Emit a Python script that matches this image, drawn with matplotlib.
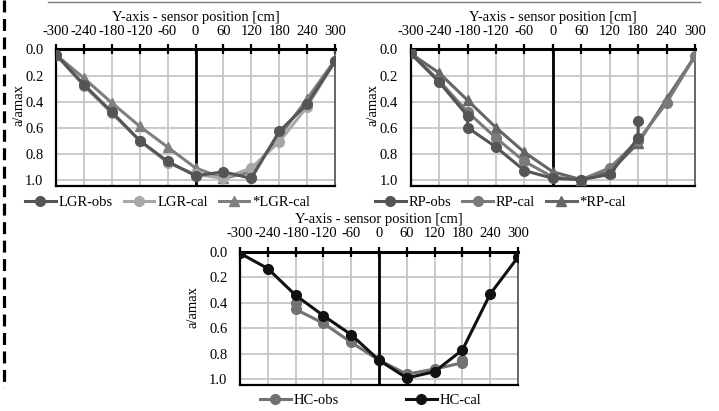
import matplotlib
matplotlib.use('Agg')
import matplotlib.pyplot as plt
from matplotlib.lines import Line2D
import numpy as np

#--------------------------数据----------------------------
x_pos = [-300, -240, -180, -120, -60, 0, 60, 120, 180, 240, 300]
x_ticks = [-300, -240, -180, -120, -60, 0, 60, 120, 180, 240, 300]
y_ticks = [0.0, 0.2, 0.4, 0.6, 0.8, 1.0]

# LGR
lgr_obs = [0.04, 0.27, 0.48, 0.70, 0.86, 0.97, 0.94, 0.99, 0.63, 0.42, 0.09]
lgr_cal = [0.04, 0.28, 0.49, 0.70, 0.87, 0.96, 0.99, 0.91, 0.71, 0.44, 0.09]
lgr_cal2 = [0.04, 0.22, 0.41, 0.59, 0.75, 0.91, 0.99, 0.94, 0.67, 0.38, 0.08]

# RP (obs has two sensors at -180 and 180)
rp_obs_x = [-300, -240, -180, -180, -120, -60, 0, 60, 120, 180, 180]
rp_obs = [0.03, 0.25, 0.51, 0.60, 0.75, 0.93, 0.99, 1.00, 0.96, 0.68, 0.55]
rp_cal = [0.03, 0.24, 0.48, 0.68, 0.86, 0.98, 1.00, 0.91, 0.70, 0.41, 0.05]
rp_cal2 = [0.03, 0.18, 0.39, 0.60, 0.79, 0.94, 1.00, 0.94, 0.72, 0.38, 0.05]

# HC
hc_obs_x = [-180, -180, -120, -60, 0, 60, 120, 180, 180]
hc_obs = [0.40, 0.45, 0.56, 0.71, 0.85, 0.96, 0.92, 0.87, 0.85]
hc_cal = [0.01, 0.13, 0.34, 0.50, 0.65, 0.85, 0.99, 0.94, 0.77, 0.33, 0.04]

xlabel = 'Y-axis - sensor position [cm]'
ylabel = 'a/amax'
#------------------------------------------------------------

plt.rcParams['font.family'] = ['Liberation Serif', 'DejaVu Serif']
plt.rcParams['lines.scale_dashes'] = False
plt.rcParams['axes.unicode_minus'] = False

W, H = 719, 411
fig = plt.figure(figsize=(W / 100, H / 100), dpi=100)
FS = 10.5


def px_axes(left, top, right, bottom):
    # 像素坐标转换成figure坐标
    return fig.add_axes([left / W, 1 - bottom / H, (right - left) / W, (bottom - top) / H])


def style_axes(ax, ylab_x):
    ax.set_xlim(-300, 300)
    ax.set_ylim(1.045, 0)
    ax.set_xticks(x_ticks)
    ax.set_yticks(y_ticks)
    ax.set_yticklabels(['%.1f' % v for v in y_ticks])
    ax.xaxis.tick_top()
    ax.xaxis.set_label_position('top')
    ax.set_xlabel(xlabel, fontsize=FS, labelpad=3)
    ax.set_ylabel(ylabel, fontsize=FS)
    ax.yaxis.set_label_coords(ylab_x, 0.59)
    ax.tick_params(axis='x', direction='inout', length=7, width=1.6, labelsize=FS, pad=5, colors='black')
    ax.tick_params(axis='y', length=0, labelsize=FS, pad=9)
    ax.grid(True, color='#c6c6c6', lw=1.3)
    ax.set_axisbelow(True)
    for s in ['left', 'bottom']:
        ax.spines[s].set_linewidth(1.6)
        ax.spines[s].set_color('black')
    ax.spines['top'].set_linewidth(2.2)
    ax.spines['right'].set_linewidth(1.2)
    ax.spines['right'].set_color('#505050')
    ax.axvline(0, color='black', lw=2, zorder=2.5)


kw = dict(lw=2.2, ms=7, zorder=3)
leg_kw = dict(loc='center left', frameon=False, fontsize=FS, handlelength=2.1, handletextpad=0.2,
              borderpad=0, borderaxespad=0)

# chart 1: LGR
ax1 = px_axes(56, 49.5, 335, 185.5)
style_axes(ax1, -0.111)
ax1.plot(x_pos, lgr_cal2, marker='^', color='#7f7f7f', label='*LGR-cal', **kw)
ax1.plot(x_pos, lgr_cal, marker='o', color='#a8a8a8', label='LGR-cal', **kw)
ax1.plot(x_pos, lgr_obs, marker='o', color='#555555', label='LGR-obs', **kw)
h, l = ax1.get_legend_handles_labels()
fig.legend(h[::-1], l[::-1], bbox_to_anchor=(25 / W, 1 - 202 / H), ncol=3, columnspacing=0.75, **leg_kw)

# chart 2: RP
ax2 = px_axes(410.7, 49.5, 695, 185.5)
style_axes(ax2, -0.108)
ax2.plot(x_pos, rp_cal2, marker='^', color='#666666', label='*RP-cal', **kw)
ax2.plot(x_pos, rp_cal, marker='o', color='#7a7a7a', label='RP-cal', **kw)
ax2.plot(rp_obs_x, rp_obs, marker='o', color='#555555', label='RP-obs', **kw)
h, l = ax2.get_legend_handles_labels()
fig.legend(h[::-1], l[::-1], bbox_to_anchor=(375 / W, 1 - 202 / H), ncol=3, columnspacing=0.75, **leg_kw)

# chart 3: HC
ax3 = px_axes(240, 252, 518, 385)
style_axes(ax3, -0.144)
ax3.plot(hc_obs_x, hc_obs, marker='o', color='#727272', label='HC-obs', **kw)
ax3.plot(x_pos, hc_cal, marker='o', color='#111111', label='HC-cal', **kw)
h, l = ax3.get_legend_handles_labels()
fig.legend(h, l, bbox_to_anchor=(260 / W, 1 - 400 / H), ncol=2, columnspacing=4.6, **leg_kw)

# 顶部的横线和左边的虚线
fig.add_artist(Line2D([48 / W, 700 / W], [1 - 2.5 / H, 1 - 2.5 / H], color='#7a7a7a', lw=1))
fig.add_artist(Line2D([4 / W, 4 / W], [1.0, 1 - 388 / H], color='black', lw=2.3,
                      linestyle=(0, (8.6, 4.7))))

fig.savefig('out.png', dpi=100)
